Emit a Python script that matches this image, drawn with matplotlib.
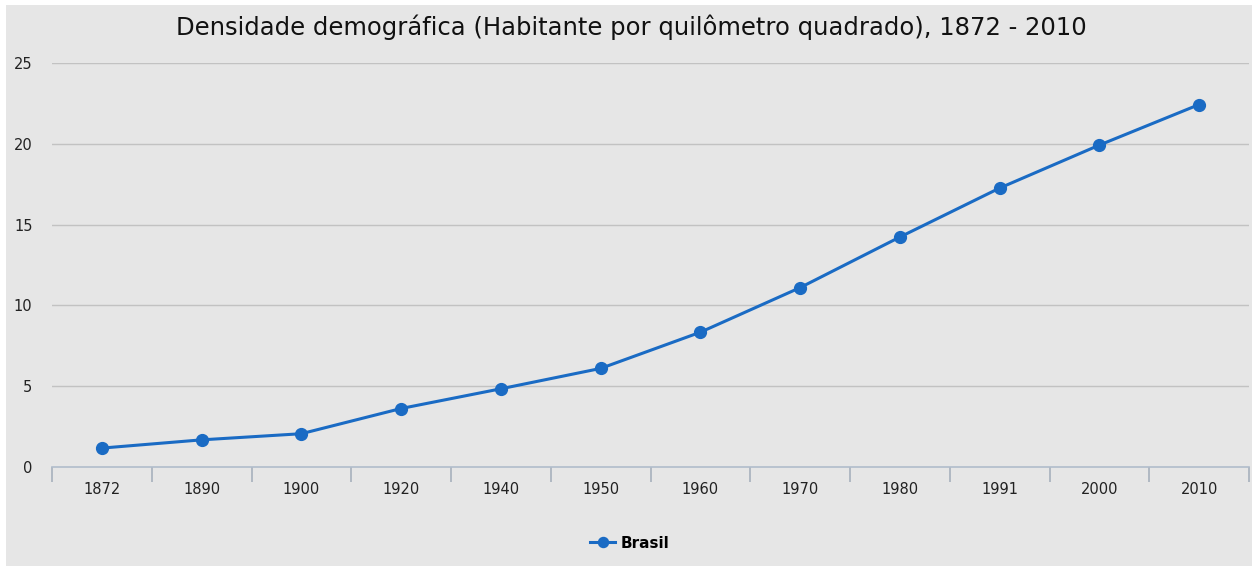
import numpy as np
import matplotlib.pyplot as plt
from matplotlib.patches import Rectangle

years = ["1872", "1890", "1900", "1920", "1940", "1950",
         "1960", "1970", "1980", "1991", "2000", "2010"]
densidade = [1.17, 1.68, 2.06, 3.62, 4.84, 6.10,
             8.34, 11.10, 14.23, 17.26, 19.92, 22.43]
yticks = [0, 5, 10, 15, 20, 25]

bg = "#e6e6e6"
blue = "#1a6bc4"

W, H = 1259, 566
fig = plt.figure(figsize=(W / 100, H / 100), dpi=100, facecolor="white")
fig.patches.append(Rectangle((6 / W, 0), (1252 - 6) / W, (H - 5) / H,
                             transform=fig.transFigure, facecolor=bg,
                             edgecolor="none", zorder=-10))

ax = fig.add_axes([52 / W, (H - 467) / H, (1249 - 52) / W, (467 - 63) / H])
ax.set_facecolor(bg)
ax.patch.set_alpha(0)

x = np.arange(len(years))
ax.plot(x, densidade, color=blue, lw=2.2, marker="o", ms=8.5,
        label="Brasil", zorder=3, clip_on=False)

ax.set_xlim(-0.5, len(years) - 0.5)
ax.set_ylim(0, 25)
ax.set_yticks(yticks)
ax.set_yticklabels([str(v) for v in yticks], fontsize=10.5, color="#222222")
ax.tick_params(axis="y", length=0, pad=14)
for v in yticks[1:]:
    ax.axhline(v, color="#c2c2c2", lw=1.0, zorder=1)

# category ticks sit between labels
ax.set_xticks(np.arange(-0.5, len(years)), minor=False)
ax.set_xticklabels([])
ax.tick_params(axis="x", length=11, width=1.2, color="#a7b0bd", direction="out")
for i, yr in enumerate(years):
    ax.text(i, -0.037, yr, transform=ax.get_xaxis_transform(),
            ha="center", va="top", fontsize=10.5, color="#222222")

for s in ["top", "right", "left"]:
    ax.spines[s].set_visible(False)
ax.spines["bottom"].set_color("#b0bccb")
ax.spines["bottom"].set_linewidth(1.2)

fig.text(631 / W, 1 - 35 / H,
         "Densidade demográfica (Habitante por quilômetro quadrado), 1872 - 2010",
         ha="center", va="baseline", fontsize=17.5, color="#111111")

leg = fig.legend(loc="center", bbox_to_anchor=(630 / W, 1 - 543 / H),
                 frameon=False, prop={"weight": "bold", "size": 11},
                 handlelength=1.6, handletextpad=0.4, markerscale=0.85)

fig.savefig("out.png", dpi=100, facecolor=fig.get_facecolor())
